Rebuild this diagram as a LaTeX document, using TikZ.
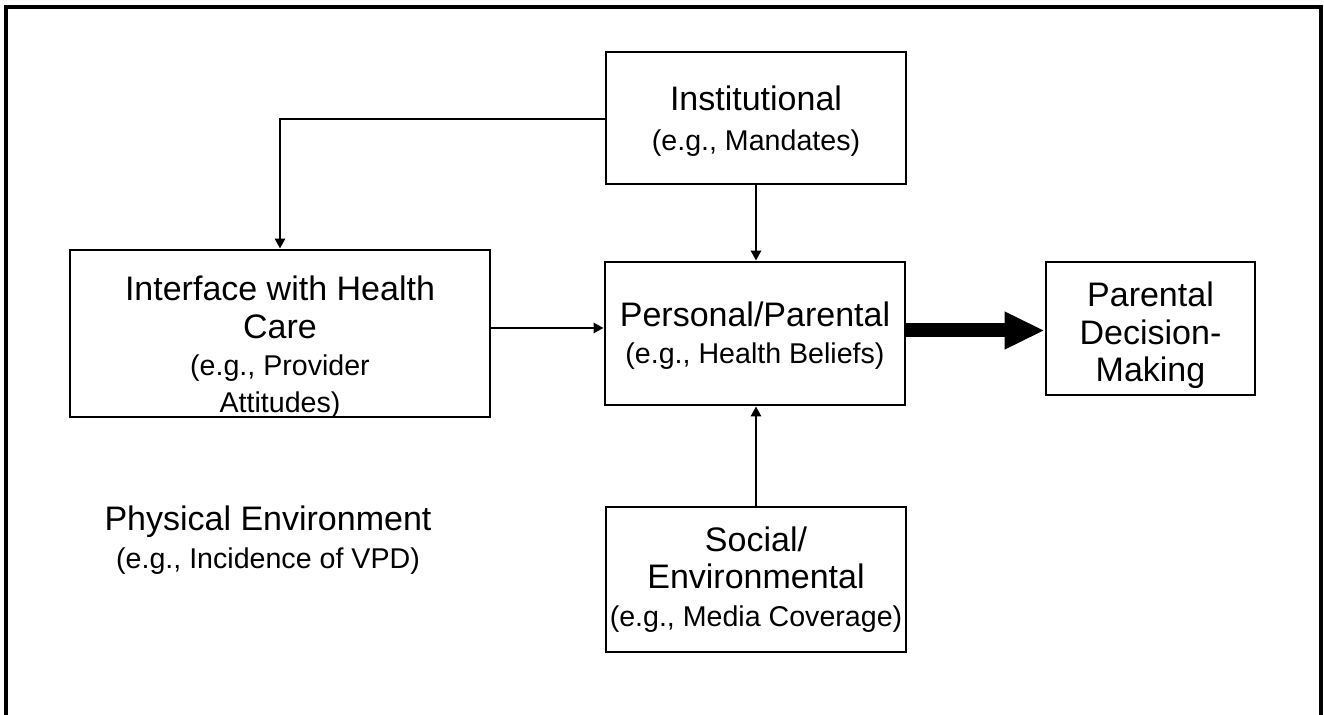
\documentclass[tikz,border=0pt]{standalone}
\usepackage{fontspec}
\setmainfont{Liberation Sans}
\usetikzlibrary{arrows.meta}
\newcommand{\titlefnt}{\fontsize{17}{18.7}\selectfont}
\newcommand{\subfnt}{\fontsize{14.3}{17.5}\selectfont}
\tikzset{
  box/.style={draw, line width=1.4pt, inner sep=0pt},
  boxtext/.style={inner sep=0pt, align=center, font=\titlefnt},
  conn/.style={line width=1.4pt, -{Triangle[length=5pt,width=5pt]}},
  bigarrow/.style={line width=7pt, -{Triangle[length=20pt,width=17.5pt]}},
}
\begin{document}
\begin{tikzpicture}[x=0.5pt,y=-0.5pt]
\useasboundingbox (0,0) rectangle (1324,715);
\coordinate (bl) at (6,717);
\coordinate (tl) at (6,7);
\coordinate (tr) at (1321,7);
\coordinate (br) at (1321,717);
\draw[line width=1.7pt] (bl) -- (tl) -- (tr) -- (br);

\node[box, minimum width=150pt, minimum height=66pt,
  label={[boxtext, name=insttxt, yshift=-1.5pt]center:Institutional\\[1pt]{\subfnt (e.g., Mandates)}}]
  (inst) at (756,118) {};
\node[box, minimum width=210pt, minimum height=83.5pt,
  label={[boxtext, name=ifacetxt, yshift=-7pt]center:Interface with Health\\Care\\{\subfnt (e.g., Provider}\\{\subfnt Attitudes)}}]
  (iface) at (280,333.5) {};
\node[box, minimum width=150pt, minimum height=71.5pt,
  label={[boxtext, name=perstxt, yshift=-1pt]center:Personal/Parental\\{\subfnt (e.g., Health Beliefs)}}]
  (pers) at (755,333.5) {};
\node[box, minimum width=104.5pt, minimum height=66.5pt,
  label={[boxtext, name=pdmtxt, yshift=-3.5pt]center:Parental\\Decision-\\Making}]
  (pdm) at (1150.5,328.5) {};
\node[box, minimum width=150pt, minimum height=72.5pt,
  label={[boxtext, name=soctxt]center:Social/\\Environmental\\{\subfnt (e.g., Media Coverage)}}]
  (soc) at (756,579.5) {};
\node[boxtext] (phys) at (268,540)
  {Physical Environment\\{\subfnt (e.g., Incidence of VPD)}};

\draw[conn] ([yshift=-0.5pt]inst.west) -| (iface.north -| 280,0);
\draw[conn] (inst.south) -- (pers.north -| inst.south);
\draw[conn] ([yshift=2.75pt]iface.east) -- ([yshift=2.75pt]pers.west);
\draw[conn] (soc.north) -- (pers.south -| soc.north);
\draw[bigarrow] ([yshift=1.5pt]pers.east) -- ([yshift=1.5pt]pers.east -| pdm.west);
\end{tikzpicture}
\end{document}
